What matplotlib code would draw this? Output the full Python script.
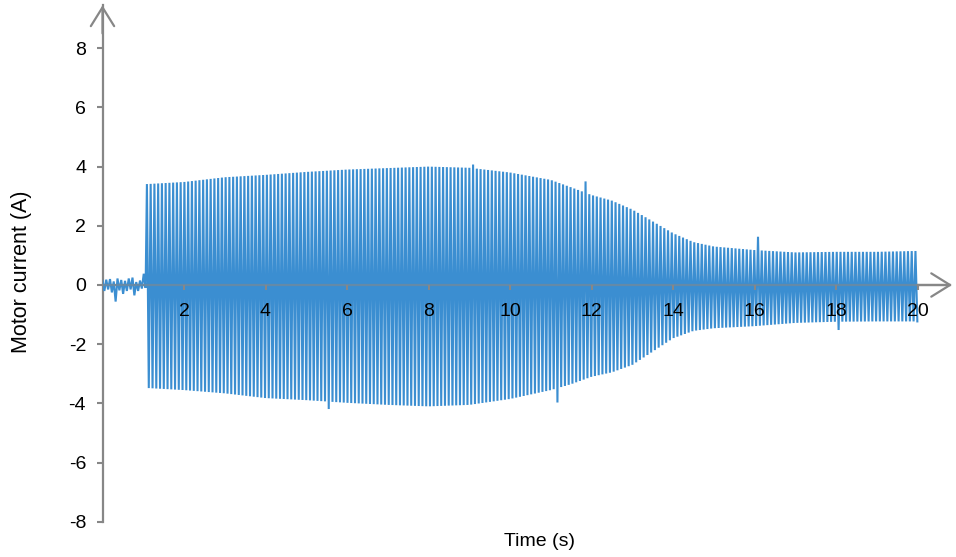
import numpy as np
import matplotlib
matplotlib.use("Agg")
import matplotlib.pyplot as plt

plt.rcParams['font.family'] = ['Liberation Sans', 'DejaVu Sans']

# Envelope of the motor current oscillation (peak values, A)
env_time = [1.1, 2, 3, 4, 5, 6, 7, 8, 9, 10, 11, 11.5, 12, 12.5, 13, 13.5,
            14, 14.5, 15, 16, 17, 18, 19, 20]
env_upper = [3.41, 3.48, 3.64, 3.72, 3.82, 3.90, 3.95, 4.00, 3.96, 3.80, 3.55,
             3.30, 3.04, 2.85, 2.55, 2.15, 1.75, 1.45, 1.30, 1.18, 1.10, 1.12,
             1.12, 1.15]
env_lower = [-3.48, -3.55, -3.66, -3.82, -3.89, -3.98, -4.05, -4.10, -4.05,
             -3.85, -3.55, -3.35, -3.10, -2.95, -2.70, -2.25, -1.80, -1.55,
             -1.46, -1.39, -1.28, -1.24, -1.23, -1.23]

# Individual spikes: (time s, peak current A)
spikes = [(9.05, 4.07), (11.87, 3.50), (16.09, 1.63),
          (5.51, -4.19), (11.13, -3.97), (18.05, -1.52)]

# Idle current before the motor starts (successive half-cycle peaks, A)
idle_peaks = [0.15, -0.20, 0.18, -0.15, 0.20, -0.25, 0.12, -0.56, 0.22, -0.18,
              0.17, -0.30, 0.14, -0.20, 0.22, -0.15, 0.25, -0.35, 0.10, -0.20,
              0.15, -0.12, 0.38, -0.10]

period = 0.092      # s, oscillation period of the drive current
t_start = 1.09      # s, motor start
t_end = 20.0

# Build the peak sequence
half = period / 2
idle_t = t_start - half * np.arange(len(idle_peaks), 0, -1)
idle_t = idle_t - idle_t[0]
run_t = t_start + half * np.arange(int((t_end - t_start) / half) + 1)
up = np.interp(run_t, env_time, env_upper)
lo = np.interp(run_t, env_time, env_lower)
run_v = np.where(np.arange(len(run_t)) % 2 == 0, up, lo)
for st, sv in spikes:
    sign_ok = (run_v > 0) if sv > 0 else (run_v < 0)
    idx = np.where(sign_ok)[0]
    k = idx[np.argmin(np.abs(run_t[idx] - st))]
    run_v[k] = sv

t = np.concatenate([idle_t, run_t])
v = np.concatenate([idle_peaks, run_v])

axis_gray = '#878787'
line_blue = '#3B8ED1'

fig = plt.figure(figsize=(9.56, 5.57), dpi=100)
ax = fig.add_axes([102.5 / 956, (557 - 521.8) / 557, 20.8 * 40.75 / 956, 17.45 * 29.6 / 557])
ax.set_xlim(0, 20.8)
ax.set_ylim(-8, 9.45)

ax.plot(t, v, color=line_blue, lw=1.5, zorder=2, solid_joinstyle='miter')

for side in ('top', 'right'):
    ax.spines[side].set_visible(False)
ax.spines['left'].set_position(('data', 0))
ax.spines['bottom'].set_position(('data', 0))
for side in ('left', 'bottom'):
    ax.spines[side].set_color(axis_gray)
    ax.spines[side].set_linewidth(1.6)
    ax.spines[side].set_zorder(1)
ax.spines['left'].set_bounds(-8, 9.45)
ax.spines['bottom'].set_bounds(0, 20.8)

# zero line shows through the signal
ax.plot([0, t_end], [0, 0], color=axis_gray, lw=1.6, alpha=0.55, zorder=4)

# arrow heads at the axis ends
ax.annotate('', xy=(0, 9.45), xytext=(0, 8.5),
            arrowprops=dict(arrowstyle='->,head_length=0.45,head_width=0.28',
                            color=axis_gray, lw=1.6, mutation_scale=30,
                            shrinkA=0, shrinkB=0))
ax.annotate('', xy=(20.85, 0), xytext=(20.0, 0),
            arrowprops=dict(arrowstyle='->,head_length=0.45,head_width=0.28',
                            color=axis_gray, lw=1.6, mutation_scale=30,
                            shrinkA=0, shrinkB=0), annotation_clip=False)

x_ticks = [2, 4, 6, 8, 10, 12, 14, 16, 18, 20]
y_ticks = [-8, -6, -4, -2, 0, 2, 4, 6, 8]
ax.set_xticks(x_ticks)
ax.set_xticklabels([str(x) for x in x_ticks])
ax.set_yticks(y_ticks)
ax.set_yticklabels([str(y) for y in y_ticks])
ax.tick_params(axis='both', colors=axis_gray, labelcolor='black', labelsize=14,
               width=1.5, length=4.3, direction='out')
ax.tick_params(axis='x', pad=9.5, length=3.5)
ax.tick_params(axis='y', pad=7.5)
# tick labels sit on top of the signal
ax.xaxis.set_zorder(5)

fig.text(22 / 956, 1 - 272 / 557, 'Motor current (A)', rotation=90,
         ha='center', va='center', fontsize=15.5)
fig.text(540 / 956, 1 - 541 / 557, 'Time (s)', ha='center', va='center', fontsize=14)

fig.savefig('out.png', dpi=100)
